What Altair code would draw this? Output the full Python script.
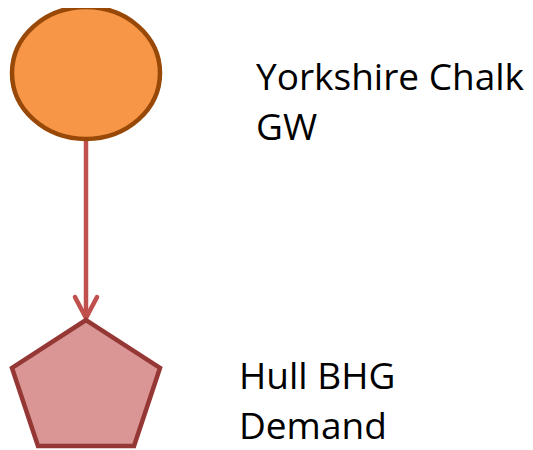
import altair as alt
import pandas as pd

# Node data (page pixel coordinates)
node_names = ["Yorkshire Chalk GW", "Hull BHG Demand"]
node_x = [86, 86]
node_y = [73, 383]

# Arrow from source to demand
arrow_x = [86]
arrow_y_start = [140]
arrow_y_end = [318]

# Labels (one row per text line)
label_text = ["Yorkshire Chalk", "GW", "Hull BHG", "Demand"]
label_x = [256, 256, 239, 239]
label_y = [90, 140, 389, 439]

ELLIPSE = "M -1 0 A 1 0.892 0 1 0 1 0 A 1 0.892 0 1 0 -1 0 Z"
PENTAGON = "M 0 -0.851 L 1 -0.203 L 0.649 0.851 L -0.649 0.851 L -1 -0.203 Z"
CHEVRON = "M -1 -1.9 L 0 0 L 1 -1.9"

xs = alt.Scale(domain=[8, 525], range=[0, 517])
ys = alt.Scale(domain=[8, 450], range=[0, 442])

src = pd.DataFrame({"x": node_x[:1], "y": node_y[:1], "name": node_names[:1]})
dem = pd.DataFrame({"x": node_x[1:], "y": node_y[1:], "name": node_names[1:]})
arr = pd.DataFrame({"x": arrow_x, "y": arrow_y_start, "y2": arrow_y_end})
tip = pd.DataFrame({"x": arrow_x, "y": arrow_y_end})
lab = pd.DataFrame({"x": label_x, "y": label_y, "t": label_text})

X = alt.X("x:Q", scale=xs, axis=None)
Y = alt.Y("y:Q", scale=ys, axis=None)

line = alt.Chart(arr).mark_rule(color="#C0504D", strokeWidth=4.5, strokeCap="butt").encode(
    x=X, y=Y, y2="y2:Q")
head = alt.Chart(tip).mark_point(shape=CHEVRON, filled=False, size=484, stroke="#C0504D",
                                 strokeWidth=4.5, opacity=1, strokeCap="round",
                                 strokeJoin="miter").encode(x=X, y=Y)
ellipse = alt.Chart(src).mark_point(shape=ELLIPSE, filled=True, size=21904, fill="#F79646",
                                    fillOpacity=1, opacity=1, stroke="#984807",
                                    strokeWidth=4.5).encode(x=X, y=Y)
pent = alt.Chart(dem).mark_point(shape=PENTAGON, filled=True, size=21904, fill="#D99694",
                                 fillOpacity=1, opacity=1, stroke="#953735",
                                 strokeWidth=4.5, strokeJoin="miter").encode(x=X, y=Y)
text = alt.Chart(lab).mark_text(align="left", baseline="alphabetic", font="Open Sans",
                                fontSize=37, color="#000000").encode(x=X, y=Y, text="t:N")

chart = alt.layer(line, head, ellipse, pent, text).properties(
    width=517, height=442, padding=0, autosize=alt.AutoSizeParams(type="none")
).configure_view(strokeWidth=0)

chart.save("out.html", embed_options={"renderer": "svg", "actions": False})
